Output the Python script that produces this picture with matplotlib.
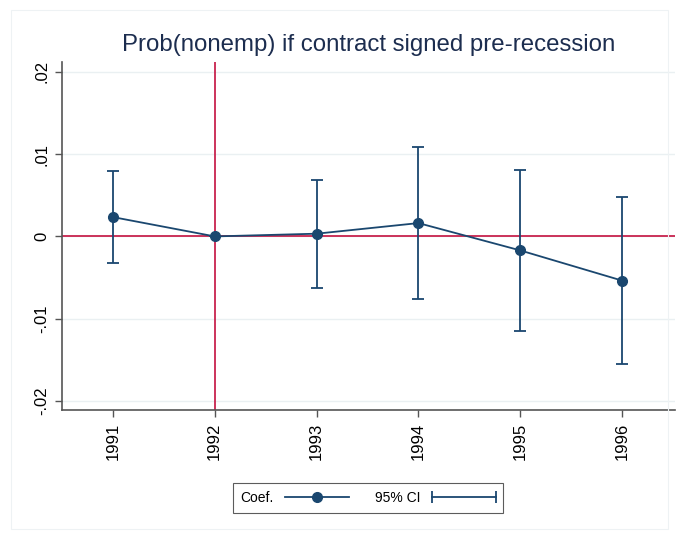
import numpy as np
import matplotlib.pyplot as plt
from matplotlib.lines import Line2D
from matplotlib.legend_handler import HandlerLine2D
from matplotlib.patches import Rectangle

plt.rcParams['font.family'] = ['Liberation Sans', 'DejaVu Sans']

years = [1991, 1992, 1993, 1994, 1995, 1996]
coef = [0.00235, 0.0, 0.00033, 0.00162, -0.00170, -0.00537]
ci_low = [-0.00326, 0.0, -0.00626, -0.00760, -0.01146, -0.01545]
ci_high = [0.00790, 0.0, 0.00680, 0.01090, 0.00810, 0.00476]
yticks = [-0.02, -0.01, 0, 0.01, 0.02]
ytick_labels = ['-.02', '-.01', '0', '.01', '.02']
title = 'Prob(nonemp) if contract signed pre-recession'

navy = '#1a476f'
red = '#c8234e'

fig = plt.figure(figsize=(6.78, 5.39), dpi=100)
# faint graph region border like Stata
fig.patches.append(Rectangle((11 / 678, 10 / 539), 657 / 678, 519 / 539,
                             transform=fig.transFigure, fill=False,
                             edgecolor='#eef2f4', linewidth=0.8))
ax = fig.add_axes([62 / 678, 1 - 410 / 539, 613 / 678, 348 / 539])

ax.set_xlim(1990.5, 1996.52)
ax.set_ylim(-0.0211, 0.0212)

for yv in yticks:
    ax.axhline(yv, color='#eaf0f2', linewidth=1.0, zorder=0)

ax.axhline(0, color=red, linewidth=1.3, zorder=1)
ax.axvline(1992, color=red, linewidth=1.3, zorder=1)

c = np.array(coef)
lo = np.array(ci_low)
hi = np.array(ci_high)
ax.errorbar(years, c, yerr=[c - lo, hi - c], fmt='none', ecolor=navy,
            elinewidth=1.3, capsize=4, capthick=1.3, zorder=2)
ax.plot(years, coef, color=navy, linewidth=1.3, marker='o', markersize=7,
        zorder=3)

ax.set_xticks(years)
ax.set_xticklabels([str(y) for y in years], rotation=90)
ax.set_yticks(yticks)
ax.set_yticklabels(ytick_labels, rotation=90, va='center')
ax.tick_params(axis='both', labelsize=12, length=5, width=1, color='#555555',
               labelcolor='black', pad=4)
for s in ['top', 'right']:
    ax.spines[s].set_visible(False)
for s in ['left', 'bottom']:
    ax.spines[s].set_color('#555555')
    ax.spines[s].set_linewidth(1.2)

ax.set_title(title, fontsize=17.3, color='#1c2d4f', pad=8)

h_coef = Line2D([], [], color=navy, linewidth=1.3, marker='o', markersize=7)
h_ci = Line2D([], [], color=navy, linewidth=1.3, marker='|', markersize=8,
              markeredgewidth=1.3)
leg = fig.legend([h_coef, h_ci], ['Coef.', '95% CI'], loc='center',
                 bbox_to_anchor=(368 / 678, 1 - 498 / 539), ncol=2,
                 fontsize=10, frameon=True, fancybox=False,
                 edgecolor='#333333', handlelength=4.6, handletextpad=0.8,
                 columnspacing=1.9, markerfirst=False, borderpad=0.55,
                 handler_map={h_ci: HandlerLine2D(numpoints=2, marker_pad=0)})
leg.get_frame().set_linewidth(0.8)

fig.savefig('out.png', dpi=100, facecolor='white')
